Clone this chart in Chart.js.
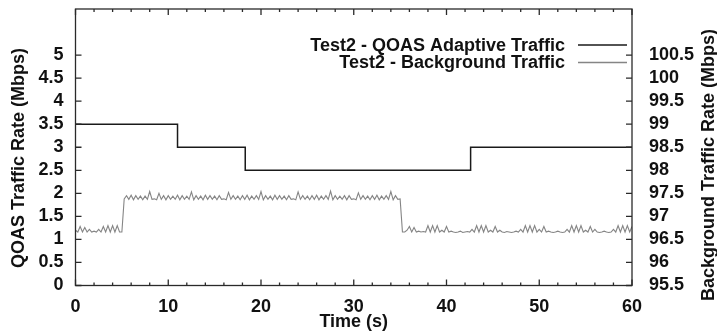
<!DOCTYPE html>
<html><head><meta charset="utf-8">
<script src="https://cdn.jsdelivr.net/npm/chart.js@4"></script>
<style>html,body{margin:0;padding:0;background:#fff}#wrap{width:717px;height:331px}</style>
</head><body><div id="wrap"><canvas id="c" width="717" height="331"></canvas></div>
<script>
const xTickValues=[0,10,20,30,40,50,60];
const xTickLabels=['0','10','20','30','40','50','60'];
const xMinorTicks=[2,4,6,8,12,14,16,18,22,24,26,28,32,34,36,38,42,44,46,48,52,54,56,58];
const leftTickValues=[0,0.5,1,1.5,2,2.5,3,3.5,4,4.5,5];
const leftTickLabels=['0','0.5','1','1.5','2','2.5','3','3.5','4','4.5','5'];
const rightTickValues=[95.5,96,96.5,97,97.5,98,98.5,99,99.5,100,100.5];
const rightTickLabels=['95.5','96','96.5','97','97.5','98','98.5','99','99.5','100','100.5'];
const seriesNames=['Test2 - QOAS Adaptive Traffic','Test2 - Background Traffic'];
const axisTitles=['Time (s)','QOAS Traffic Rate (Mbps)','Background Traffic Rate (Mbps)'];

// QOAS adaptive traffic (left axis, Mbps)
const qoasTime=[0,11,11,18.3,18.3,42.6,42.6,60];
const qoasRate=[3.5,3.5,3,3,2.5,2.5,3,3];

// Background traffic (right axis, Mbps), sampled every 0.25 s from 0 to 60 s
const bgStart=0, bgStep=0.25;
const bgRate=[
 96.70,96.66,96.78,96.66,96.76,96.66,96.72,96.66,96.68,96.66,96.72,96.66,96.78,96.66,96.80,96.66,96.80,96.66,96.80,96.66,96.66,
 97.38,97.45,97.37,97.46,97.36,97.45,97.37,97.44,
 97.36,97.44,97.37,97.54,97.37,97.38,97.36,97.50,
 97.37,97.45,97.36,97.45,97.37,97.44,97.37,97.46,
 97.36,97.45,97.37,97.44,97.37,97.53,97.36,97.45,
 97.37,97.44,97.36,97.46,97.37,97.45,97.37,97.44,
 97.36,97.45,97.37,97.38,97.36,97.52,97.37,97.45,
 97.37,97.44,97.36,97.45,97.37,97.46,97.36,97.44,
 97.37,97.45,97.37,97.54,97.36,97.45,97.37,97.44,
 97.36,97.46,97.37,97.45,97.37,97.44,97.36,97.45,
 97.37,97.38,97.36,97.53,97.37,97.45,97.37,97.44,
 97.36,97.45,97.37,97.46,97.36,97.44,97.37,97.45,
 97.37,97.55,97.36,97.45,97.37,97.44,97.37,97.45,
 97.36,97.45,97.37,97.38,97.36,97.51,97.37,97.45,
 97.37,97.44,97.36,97.45,97.37,97.46,97.36,97.44,
 97.37,97.45,97.37,97.54,97.36,97.45,97.37,97.38,
 96.66,96.66,96.70,96.78, 96.66,96.76,96.66,96.68, 96.66,96.67,96.66,96.80, 96.66,96.80,96.66,96.80,
 96.66,96.70,96.66,96.78, 96.66,96.68,96.66,96.65, 96.66,96.68,96.65,96.66, 96.67,96.66,96.72,96.66,
 96.80,96.66,96.80,96.66, 96.80,96.66,96.70,96.66, 96.78,96.66,96.70,96.66, 96.65,96.67,96.66,96.65,
 96.66,96.68,96.66,96.72, 96.66,96.80,96.66,96.80, 96.66,96.80,96.66,96.72, 96.66,96.78,96.66,96.68,
 96.66,96.65,96.66,96.68, 96.66,96.65,96.66,96.72, 96.66,96.80,96.66,96.80, 96.66,96.80,96.66,96.70,
 96.66,96.78,96.66,96.72, 96.66,96.65,96.66,96.68, 96.66,96.65,96.66,96.72, 96.66,96.80,96.66,96.80,
 96.66,96.80,96.66,96.78
];

const FONT='"Liberation Sans", Arial, Helvetica, sans-serif';
const TXT='#111111';
const lineColors=['#1a1a1a','#858585'];

const frame={
 id:'frame',
 afterDatasetsDraw(chart){
  const {ctx,chartArea:a,scales}=chart;
  ctx.save();
  ctx.strokeStyle='#2a2a2a';ctx.lineWidth=1.3;
  ctx.strokeRect(a.left,a.top,a.right-a.left,a.bottom-a.top);
  ctx.beginPath();
  xTickValues.forEach(v=>{const p=scales.x.getPixelForValue(v);
    ctx.moveTo(p,a.bottom);ctx.lineTo(p,a.bottom-6);ctx.moveTo(p,a.top);ctx.lineTo(p,a.top+6);});
  xMinorTicks.forEach(v=>{const p=scales.x.getPixelForValue(v);
    ctx.moveTo(p,a.bottom);ctx.lineTo(p,a.bottom-3);ctx.moveTo(p,a.top);ctx.lineTo(p,a.top+3);});
  leftTickValues.forEach(v=>{const p=scales.y.getPixelForValue(v);ctx.moveTo(a.left,p);ctx.lineTo(a.left+6,p);});
  rightTickValues.forEach(v=>{const p=scales.y2.getPixelForValue(v);ctx.moveTo(a.right,p);ctx.lineTo(a.right-6,p);});
  ctx.stroke();
  // legend
  ctx.font='bold 18px '+FONT;ctx.fillStyle=TXT;ctx.textAlign='right';ctx.textBaseline='middle';
  const ly=[46,63.5];
  seriesNames.forEach((n,i)=>{
    ctx.fillText(n,565,ly[i]);
    ctx.strokeStyle=lineColors[i];ctx.lineWidth=1.4;
    ctx.beginPath();ctx.moveTo(578,ly[i]-1);ctx.lineTo(627,ly[i]-1);ctx.stroke();
  });
  // y-axis titles
  ctx.textAlign='center';ctx.textBaseline='middle';
  ctx.save();ctx.translate(19,158);ctx.rotate(-Math.PI/2);ctx.fillText(axisTitles[1],0,0);ctx.restore();
  ctx.save();ctx.translate(709,165);ctx.rotate(-Math.PI/2);ctx.fillText(axisTitles[2],0,0);ctx.restore();
  ctx.restore();
 }
};

const tickFont={family:FONT,size:18,weight:'bold'};
new Chart(document.getElementById('c'),{
 type:'line',
 data:{datasets:[
  {label:seriesNames[0],data:qoasTime.map((t,i)=>({x:t,y:qoasRate[i]})),yAxisID:'y',
   borderColor:lineColors[0],borderWidth:1.5,pointRadius:0,tension:0,fill:false},
  {label:seriesNames[1],data:bgRate.map((v,i)=>({x:bgStart+i*bgStep,y:v})),yAxisID:'y2',
   borderColor:lineColors[1],borderWidth:1.1,pointRadius:0,tension:0,fill:false}
 ]},
 options:{
  responsive:false,animation:false,devicePixelRatio:1,
  layout:{padding:{top:9,left:0,right:0,bottom:0}},
  plugins:{legend:{display:false},tooltip:{enabled:false}},
  scales:{
   x:{type:'linear',min:0,max:60,
      grid:{display:false,drawTicks:false},border:{display:false},
      afterBuildTicks:s=>{s.ticks=xTickValues.map(v=>({value:v}));},
      ticks:{callback:v=>xTickLabels[xTickValues.indexOf(v)],font:tickFont,color:TXT,padding:11,maxRotation:0,autoSkip:false},
      title:{display:true,text:axisTitles[0],font:{family:FONT,size:18,weight:'bold',lineHeight:1},color:TXT,padding:{top:0,bottom:0}},
      afterFit:s=>{s.height=45.5;s.paddingLeft=0;s.paddingRight=0;}},
   y:{type:'linear',position:'left',min:0,max:6,
      grid:{display:false,drawTicks:false},border:{display:false},
      afterBuildTicks:s=>{s.ticks=leftTickValues.map(v=>({value:v}));},
      ticks:{callback:v=>leftTickLabels[leftTickValues.indexOf(v)],font:tickFont,color:TXT,padding:12,autoSkip:false},
      afterFit:s=>{s.width=75.5;s.paddingTop=0;s.paddingBottom=0;}},
   y2:{type:'linear',position:'right',min:95.5,max:101.5,
      grid:{display:false,drawTicks:false},border:{display:false},
      afterBuildTicks:s=>{s.ticks=rightTickValues.map(v=>({value:v}));},
      ticks:{callback:v=>rightTickLabels[rightTickValues.indexOf(v)],font:tickFont,color:TXT,padding:17,autoSkip:false},
      afterFit:s=>{s.width=85;s.paddingTop=0;s.paddingBottom=0;}}
  }
 },
 plugins:[frame]
});
</script></body></html>
